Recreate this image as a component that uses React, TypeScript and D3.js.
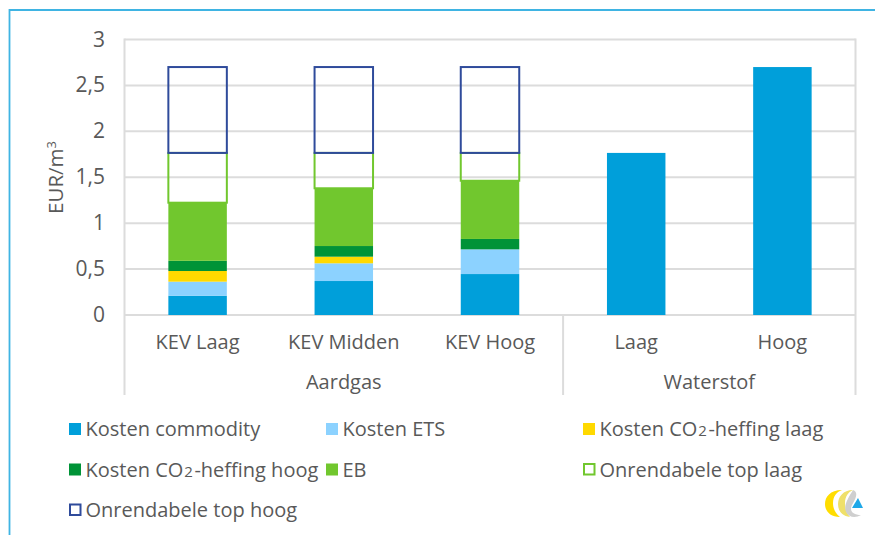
import React from "react";
import * as d3 from "d3";

const categories = ["KEV Laag", "KEV Midden", "KEV Hoog", "Laag", "Hoog"];
const groups = [
  { name: "Aardgas", from: 0, to: 3 },
  { name: "Waterstof", from: 3, to: 5 },
];
const seriesNames = [
  "Kosten commodity",
  "Kosten ETS",
  "Kosten CO2-heffing laag",
  "Kosten CO2-heffing hoog",
  "EB",
  "Onrendabele top laag",
  "Onrendabele top hoog",
];
const colors = ["#009FDA", "#8CD2FF", "#FFD900", "#009337", "#71C72E", "#71C72E", "#2F4B9B"];
const commodity = [0.21, 0.37, 0.446, 1.765, 2.7];
const ets = [0.153, 0.193, 0.269, 0, 0];
const co2Laag = [0.116, 0.072, 0, 0, 0];
const co2Hoog = [0.111, 0.116, 0.113, 0, 0];
const eb = [0.633, 0.629, 0.634, 0, 0];
const topLaag = [0.542, 0.385, 0.303, 0, 0];
const topHoog = [0.935, 0.935, 0.935, 0, 0];
const seriesValues = [commodity, ets, co2Laag, co2Hoog, eb, topLaag, topHoog];
const yTicks = [0, 0.5, 1, 1.5, 2, 2.5, 3];

const W = 875;
const H = 535;
const left = 124.5;
const right = 855.5;
const top = 39.5;
const bottom = 315;
const FONT = "'Open Sans', 'Noto Sans', sans-serif";
const TEXT = "#595959";
const GRID = "#DCDCDC";

const rows = categories.map((c, i) => {
  const row: Record<string, any> = { category: c };
  seriesNames.forEach((s, k) => (row[s] = seriesValues[k][i]));
  return row;
});
const stacks = d3.stack<any>().keys(seriesNames)(rows);

const y = d3.scaleLinear().domain([0, 3]).range([bottom, top]);
const x = d3
  .scaleBand<string>()
  .domain(categories.map((_, i) => String(i)))
  .range([left, right])
  .paddingInner(0.6)
  .paddingOuter(0.3);
const step = (right - left) / categories.length;
const edge = (i: number) => left + step * i;

const legendPos: [number, number][] = [
  [69, 429.5],
  [326, 429.5],
  [583, 429.5],
  [69, 470],
  [326, 470],
  [583, 470],
  [69, 510.5],
];

function legendLabel(name: string) {
  const parts = name.split("CO2");
  if (parts.length === 1) return name;
  return (
    <>
      {parts[0]}CO<tspan fontSize={15} dx={1}>2</tspan>
      <tspan dx={1.5}>{parts[1]}</tspan>
    </>
  );
}

export default function App() {
  return (
    <svg
      width={W}
      height={H}
      viewBox={`0 0 ${W} ${H}`}
      style={{ position: "absolute", left: 0, top: 0, background: "#fff" }}
      fontFamily={FONT}
    >
      <path d={`M9.5 ${H} V10 H${W}`} fill="none" stroke="#3FB4E3" strokeWidth={1.8} />

      {yTicks.map((t) => (
        <g key={t}>
          <line x1={left} x2={right} y1={y(t)} y2={y(t)} stroke={GRID} strokeWidth={2} />
          <text x={105} y={y(t) + 7} textAnchor="end" fontSize={21} fill={TEXT}>
            {String(t).replace(".", ",")}
          </text>
        </g>
      ))}
      <line x1={left} x2={left} y1={top - 1} y2={395} stroke={GRID} strokeWidth={2} />
      <line x1={right} x2={right} y1={top - 1} y2={395} stroke={GRID} strokeWidth={2} />
      <line x1={edge(3)} x2={edge(3)} y1={bottom} y2={395} stroke={GRID} strokeWidth={2} />

      <text
        transform={`translate(63,177.5) rotate(-90)`}
        textAnchor="middle"
        fontSize={20.5}
        fill={TEXT}
      >
        EUR/m<tspan dy={-7} fontSize={13}>3</tspan>
      </text>

      {stacks.map((s, k) =>
        s.map((d, i) => {
          if (d[1] - d[0] <= 0) return null;
          const px = x(String(i))!;
          const w = x.bandwidth();
          const outlined = k >= 5;
          return outlined ? (
            <rect
              key={`${k}-${i}`}
              x={px}
              y={y(d[1])}
              width={w}
              height={y(d[0]) - y(d[1])}
              fill="none"
              stroke={colors[k]}
              strokeWidth={2}
            />
          ) : (
            <rect key={`${k}-${i}`} x={px} y={y(d[1])} width={w} height={y(d[0]) - y(d[1])} fill={colors[k]} />
          );
        })
      )}

      {categories.map((c, i) => (
        <text key={c + i} x={edge(i) + step / 2} y={349} textAnchor="middle" fontSize={20} fill={TEXT}>
          {c}
        </text>
      ))}
      {groups.map((g) => (
        <text key={g.name} x={(edge(g.from) + edge(g.to)) / 2} y={388.5} textAnchor="middle" fontSize={20} fill={TEXT}>
          {g.name}
        </text>
      ))}

      {seriesNames.map((s, k) => {
        const [lx, ly] = legendPos[k];
        const outlined = k >= 5;
        return (
          <g key={s}>
            {outlined ? (
              <rect x={lx + 1} y={ly - 6} width={10.5} height={10.5} fill="none" stroke={colors[k]} strokeWidth={2} />
            ) : (
              <rect x={lx} y={ly - 6.5} width={12} height={12} fill={colors[k]} />
            )}
            <text x={lx + 16.5} y={ly + 6.5} fontSize={20} fill={TEXT}>
              {legendLabel(s)}
            </text>
          </g>
        );
      })}

      <path d="M842 490 C830 490 825 497 825 504 C825 511 830 517 840 517 C835 513 833 508 833 503 C833 497 836 492 842 490 Z" fill="#FFDD00" />
      <path d="M853 490 C843 490 838 497 838 504 C838 511 842 516 850 517 C846 512 845 508 845 503 C845 497 848 492 853 490 Z" fill="#EFE06A" />
      <path d="M853 490 C858 492 857 497 852 505 C849 511 853 515 861 515 C856 518 849 518 846 512 C843 505 849 497 853 490 Z" fill="#CFCFCF" />
      <path d="M858 498 L863 508 L852 508 Z" fill="#1FA8E8" />
    </svg>
  );
}
